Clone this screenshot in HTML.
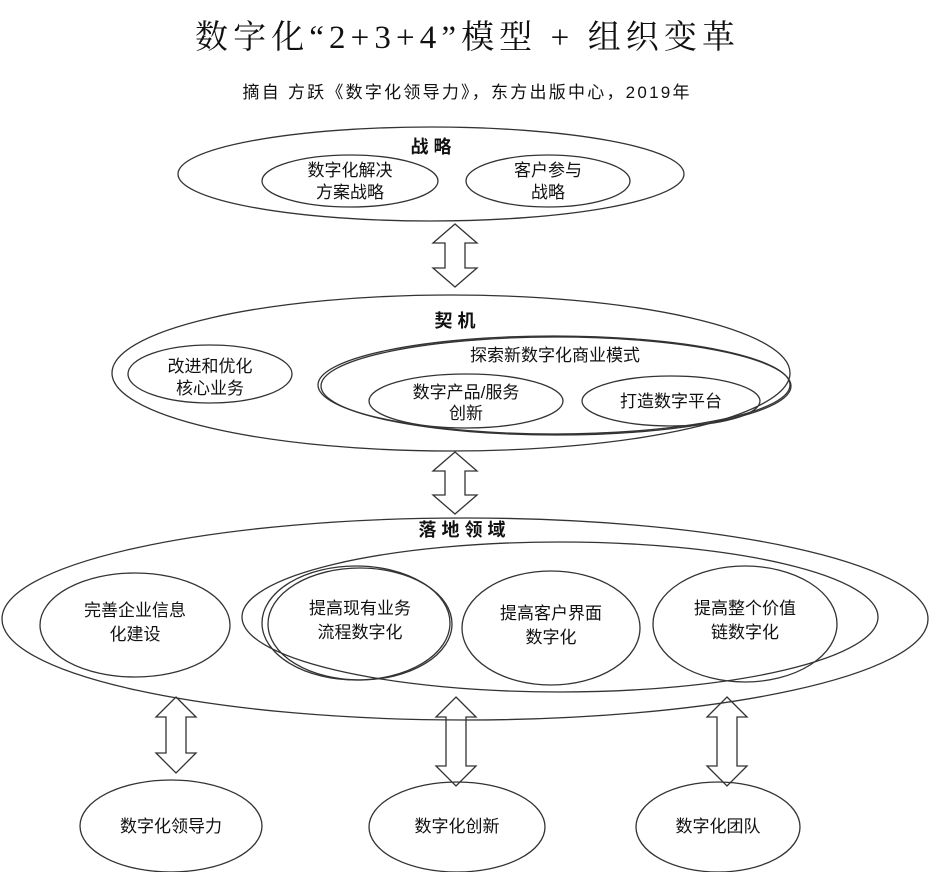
<!DOCTYPE html>
<html><head><meta charset="utf-8"><style>
html,body{margin:0;padding:0;background:#fff;}
svg{display:block}
text{font-family:"Liberation Sans","Noto Sans CJK SC",sans-serif;fill:#111;text-anchor:middle}
.t{font-size:17px}
.b{font-size:18px;font-weight:bold}
</style></head><body>
<svg width="930" height="872" viewBox="0 0 930 872" xmlns="http://www.w3.org/2000/svg">
<g fill="none" stroke="#333" stroke-width="1.3">
<ellipse cx="431" cy="174" rx="253" ry="47"/>
<ellipse cx="350" cy="181" rx="88" ry="26"/>
<ellipse cx="548" cy="181" rx="82" ry="26"/>
<ellipse cx="451" cy="373" rx="339" ry="78"/>
<ellipse cx="554" cy="385" rx="236" ry="49"/>
<ellipse cx="556" cy="386" rx="235" ry="49"/>
<ellipse cx="210" cy="374" rx="82" ry="29"/>
<ellipse cx="466" cy="401" rx="97" ry="27"/>
<ellipse cx="671" cy="401" rx="89" ry="25"/>
<ellipse cx="465" cy="619" rx="463" ry="101"/>
<ellipse cx="560" cy="617" rx="318" ry="75"/>
<ellipse cx="135" cy="625" rx="95" ry="52"/>
<ellipse cx="360" cy="624" rx="92" ry="56"/>
<ellipse cx="356" cy="623" rx="94" ry="57"/>
<ellipse cx="551" cy="628" rx="89" ry="57"/>
<ellipse cx="745" cy="624" rx="92" ry="58"/>
<ellipse cx="171" cy="826" rx="91" ry="46"/>
<ellipse cx="457" cy="827" rx="88" ry="45"/>
<ellipse cx="718" cy="827" rx="82" ry="45"/>
<path d="M455 224 L477 243 L465 243 L465 268 L477 268 L455 287 L433 268 L445 268 L445 243 L433 243 Z"/>
<path d="M455 452 L477 471 L465 471 L465 495 L477 495 L455 514 L433 495 L445 495 L445 471 L433 471 Z"/>
<path d="M176 697 L196 717 L186 717 L186 753 L196 753 L176 773 L156 753 L166 753 L166 717 L156 717 Z"/>
<path d="M456 697 L476 717 L466 717 L466 766 L476 766 L456 786 L436 766 L446 766 L446 717 L436 717 Z"/>
<path d="M727 697 L747 717 L737 717 L737 766 L747 766 L727 786 L707 766 L717 766 L717 717 L707 717 Z"/>
</g>
<text x="465" y="48" textLength="540" lengthAdjust="spacing" style="font-family:'Liberation Serif','Noto Serif CJK SC',serif;font-size:33px">数字化“2+3+4”模型 + 组织变革</text>
<text x="466" y="98" textLength="447" lengthAdjust="spacing" style="font-size:17px">摘自 方跃《数字化领导力》，东方出版中心，2019年</text>
<text class="b" x="431" y="153">战 略</text>
<text class="t" x="350" y="176">数字化解决</text><text class="t" x="350" y="198">方案战略</text>
<text class="t" x="548" y="176">客户参与</text><text class="t" x="548" y="198">战略</text>
<text class="b" x="455" y="327">契 机</text>
<text class="t" x="555" y="361">探索新数字化商业模式</text>
<text class="t" x="210" y="372">改进和优化</text><text class="t" x="210" y="394">核心业务</text>
<text class="t" x="466" y="398">数字产品/服务</text><text class="t" x="466" y="419">创新</text>
<text class="t" x="671" y="407">打造数字平台</text>
<text class="b" x="462" y="536">落 地 领 域</text>
<text class="t" x="135" y="616">完善企业信息</text><text class="t" x="135" y="640">化建设</text>
<text class="t" x="360" y="614">提高现有业务</text><text class="t" x="360" y="638">流程数字化</text>
<text class="t" x="551" y="619">提高客户界面</text><text class="t" x="551" y="643">数字化</text>
<text class="t" x="745" y="614">提高整个价值</text><text class="t" x="745" y="638">链数字化</text>
<text class="t" x="171" y="832">数字化领导力</text>
<text class="t" x="457" y="832">数字化创新</text>
<text class="t" x="718" y="832">数字化团队</text>
</svg>
</body></html>
